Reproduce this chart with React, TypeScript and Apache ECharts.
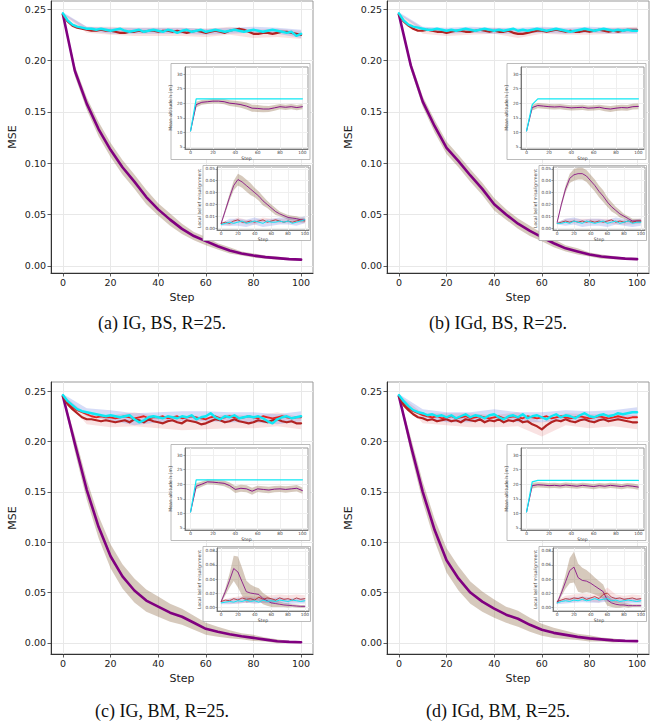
import React, { useEffect, useRef } from "react";
import * as echarts from "echarts";

// ---------- domains & ticks ----------
const MAIN_STEPS = Array.from({ length: 51 }, (_, i) => i * 2);
const STEPS5 = Array.from({ length: 21 }, (_, i) => i * 5);
const STEPS10 = Array.from({ length: 11 }, (_, i) => i * 10);
const X_TICKS = [0, 20, 40, 60, 80, 100];
const MSE_TICKS = [0, 0.05, 0.1, 0.15, 0.2, 0.25];
const ALT_TICKS = [5, 10, 15, 20, 25, 30];
const BELIEF_TICKS_BS = [0, 0.01, 0.02, 0.03, 0.04, 0.05];
const BELIEF_TICKS_BM = [0, 0.02, 0.04, 0.06, 0.08];
const CAPTIONS = ["(a) IG, BS, R=25.", "(b) IGd, BS, R=25.", "(c) IG, BM, R=25.", "(d) IGd, BM, R=25."];

// ---------- panel A: IG, BS ----------
const A_CYAN = [
  0.246, 0.239, 0.235, 0.233, 0.232, 0.231, 0.231, 0.230, 0.231, 0.230,
  0.229, 0.230, 0.231, 0.229, 0.228, 0.229, 0.230, 0.228, 0.229, 0.230,
  0.229, 0.228, 0.230, 0.229, 0.227, 0.229, 0.230, 0.228, 0.229, 0.230,
  0.228, 0.229, 0.230, 0.229, 0.228, 0.229, 0.230, 0.229, 0.228, 0.229,
  0.230, 0.229, 0.228, 0.229, 0.230, 0.229, 0.228, 0.227, 0.228, 0.224,
  0.226,
];
const A_DARKRED = [
  0.245, 0.238, 0.234, 0.232, 0.231, 0.230, 0.229, 0.229, 0.230, 0.229,
  0.229, 0.228, 0.227, 0.227, 0.228, 0.228, 0.229, 0.228, 0.229, 0.229,
  0.228, 0.229, 0.229, 0.228, 0.229, 0.228, 0.227, 0.228, 0.229, 0.228,
  0.227, 0.228, 0.229, 0.228, 0.227, 0.229, 0.230, 0.231, 0.230, 0.228,
  0.226, 0.226, 0.227, 0.227, 0.226, 0.227, 0.228, 0.228, 0.227, 0.226,
  0.225,
];
const A_PURPLE = [0.245, 0.190, 0.158, 0.133, 0.113, 0.096, 0.082, 0.067, 0.055, 0.045, 0.036, 0.029, 0.024, 0.019, 0.015, 0.012, 0.010, 0.0085, 0.0075, 0.0065, 0.006];
const A_PURPLE_BAND = [0.001, 0.005, 0.006, 0.007, 0.007, 0.007, 0.007, 0.007, 0.006, 0.006, 0.005, 0.004, 0.004, 0.003, 0.003, 0.002, 0.002, 0.0015, 0.0015, 0.001, 0.001];
const A_RED_BAND = [0.001, 0.003, 0.004, 0.004, 0.004, 0.004, 0.004, 0.004, 0.004, 0.004, 0.004];
const A_BLUE_BAND = [0.001, 0.002, 0.003, 0.003, 0.003, 0.003, 0.003, 0.003, 0.003, 0.003, 0.004];
const A_ALT_CYAN = [10.5, 21.5, 21.5, 21.5, 21.5, 21.5, 21.5, 21.5, 21.5, 21.5, 21.5, 21.5, 21.5, 21.5, 21.5, 21.5, 21.5, 21.5, 21.5, 21.5, 21.5];
const A_ALT_PURPLE = [10.5, 19.5, 20.3, 20.5, 20.7, 20.7, 20.5, 20.0, 19.8, 19.5, 19.0, 18.3, 18.2, 18.0, 18.0, 18.4, 18.8, 18.6, 18.8, 18.5, 18.8];
const A_ALT_PURPLE_BAND = [0.3, 1.0, 0.8, 0.8, 0.8, 0.8, 0.9, 1.0, 1.0, 1.1, 1.2, 1.2, 1.2, 1.1, 1.0, 1.0, 0.9, 0.9, 0.9, 0.9, 0.9];
const A_BEL_PURPLE = [0.004, 0.015, 0.026, 0.036, 0.041, 0.039, 0.036, 0.033, 0.030, 0.027, 0.023, 0.020, 0.017, 0.014, 0.012, 0.0105, 0.009, 0.0085, 0.008, 0.007, 0.0068];
const A_BEL_PURPLE_BAND = [0.001, 0.002, 0.003, 0.004, 0.005, 0.005, 0.005, 0.005, 0.004, 0.004, 0.004, 0.003, 0.003, 0.003, 0.002, 0.002, 0.002, 0.002, 0.002, 0.002, 0.002];
const A_BEL_RED = [0.004, 0.005, 0.004, 0.006, 0.007, 0.005, 0.005, 0.006, 0.005, 0.006, 0.007, 0.005, 0.006, 0.007, 0.006, 0.005, 0.006, 0.005, 0.006, 0.007, 0.006];
const A_BEL_CYAN = [0.003, 0.004, 0.005, 0.004, 0.005, 0.006, 0.004, 0.005, 0.006, 0.005, 0.004, 0.006, 0.005, 0.005, 0.006, 0.005, 0.006, 0.004, 0.005, 0.006, 0.007];
const A_BEL_RED_BAND = [0.001, 0.002, 0.002, 0.002, 0.002, 0.002, 0.002, 0.002, 0.002, 0.002, 0.002];
const A_BEL_BLUE_BAND = [0.001, 0.003, 0.003, 0.003, 0.003, 0.003, 0.003, 0.003, 0.003, 0.003, 0.003];

// ---------- panel B: IGd, BS ----------
const B_CYAN = [
  0.246, 0.239, 0.235, 0.233, 0.232, 0.231, 0.230, 0.230, 0.231, 0.230,
  0.229, 0.230, 0.229, 0.230, 0.231, 0.230, 0.229, 0.230, 0.231, 0.230,
  0.229, 0.230, 0.229, 0.230, 0.231, 0.229, 0.230, 0.229, 0.230, 0.231,
  0.230, 0.229, 0.230, 0.231, 0.230, 0.229, 0.228, 0.229, 0.230, 0.231,
  0.230, 0.229, 0.230, 0.231, 0.230, 0.229, 0.230, 0.229, 0.230, 0.229,
  0.229,
];
const B_DARKRED = [
  0.245, 0.238, 0.234, 0.231, 0.229, 0.229, 0.230, 0.229, 0.228, 0.228,
  0.227, 0.228, 0.229, 0.229, 0.228, 0.228, 0.229, 0.230, 0.229, 0.228,
  0.229, 0.228, 0.228, 0.229, 0.227, 0.226, 0.226, 0.227, 0.228, 0.229,
  0.229, 0.228, 0.229, 0.230, 0.229, 0.228, 0.229, 0.228, 0.228, 0.229,
  0.228, 0.229, 0.230, 0.229, 0.228, 0.229, 0.228, 0.229, 0.230, 0.230,
  0.230,
];
const B_PURPLE = [0.245, 0.195, 0.160, 0.136, 0.115, 0.102, 0.088, 0.075, 0.060, 0.050, 0.041, 0.034, 0.028, 0.022, 0.017, 0.014, 0.011, 0.009, 0.008, 0.007, 0.0065];
const B_PURPLE_BAND = [0.001, 0.004, 0.005, 0.006, 0.006, 0.006, 0.006, 0.006, 0.006, 0.005, 0.005, 0.005, 0.004, 0.004, 0.003, 0.003, 0.002, 0.002, 0.0015, 0.001, 0.001];
const B_RED_BAND = [0.001, 0.003, 0.003, 0.003, 0.003, 0.004, 0.003, 0.003, 0.003, 0.003, 0.003];
const B_BLUE_BAND = [0.001, 0.002, 0.003, 0.003, 0.003, 0.003, 0.003, 0.003, 0.003, 0.003, 0.003];
const B_ALT_CYAN = [10.5, 19.5, 21.5, 21.5, 21.5, 21.5, 21.5, 21.5, 21.5, 21.5, 21.5, 21.5, 21.5, 21.5, 21.5, 21.5, 21.5, 21.5, 21.5, 21.5, 21.5];
const B_ALT_PURPLE = [10.5, 18.5, 19.2, 19.0, 18.8, 18.7, 18.8, 18.6, 18.4, 18.5, 18.6, 18.3, 18.4, 18.6, 18.2, 18.0, 18.3, 18.5, 18.4, 18.8, 18.9];
const B_ALT_PURPLE_BAND = [0.3, 1.0, 0.9, 0.9, 0.9, 0.9, 0.9, 0.9, 0.9, 0.9, 0.9, 0.9, 0.9, 0.9, 1.0, 1.0, 1.0, 1.0, 1.0, 1.0, 1.0];
const B_BEL_PURPLE = [0.005, 0.020, 0.033, 0.042, 0.045, 0.046, 0.046, 0.044, 0.040, 0.036, 0.031, 0.027, 0.022, 0.018, 0.015, 0.012, 0.010, 0.008, 0.006, 0.006, 0.006];
const B_BEL_PURPLE_BAND = [0.001, 0.002, 0.003, 0.004, 0.005, 0.005, 0.005, 0.005, 0.005, 0.005, 0.005, 0.005, 0.004, 0.004, 0.003, 0.003, 0.002, 0.002, 0.002, 0.002, 0.002];
const B_BEL_RED = [0.004, 0.005, 0.006, 0.005, 0.006, 0.005, 0.006, 0.005, 0.006, 0.005, 0.006, 0.005, 0.006, 0.007, 0.005, 0.006, 0.005, 0.006, 0.005, 0.006, 0.006];
const B_BEL_CYAN = [0.004, 0.004, 0.005, 0.004, 0.006, 0.005, 0.004, 0.006, 0.005, 0.004, 0.005, 0.006, 0.004, 0.005, 0.006, 0.004, 0.005, 0.006, 0.004, 0.005, 0.005];
const B_BEL_RED_BAND = [0.001, 0.002, 0.002, 0.002, 0.002, 0.002, 0.002, 0.002, 0.002, 0.002, 0.002];
const B_BEL_BLUE_BAND = [0.001, 0.003, 0.003, 0.003, 0.003, 0.003, 0.003, 0.003, 0.003, 0.003, 0.003];

// ---------- panel C: IG, BM ----------
const C_CYAN = [
  0.246, 0.240, 0.236, 0.232, 0.230, 0.229, 0.228, 0.227, 0.226, 0.225,
  0.226, 0.225, 0.224, 0.225, 0.226, 0.222, 0.219, 0.221, 0.224, 0.225,
  0.224, 0.223, 0.225, 0.224, 0.223, 0.225, 0.224, 0.226, 0.222, 0.224,
  0.225, 0.228, 0.224, 0.222, 0.225, 0.224, 0.226, 0.223, 0.224, 0.225,
  0.224, 0.225, 0.223, 0.220, 0.218, 0.222, 0.224, 0.225, 0.223, 0.224,
  0.225,
];
const C_DARKRED = [
  0.245, 0.237, 0.232, 0.228, 0.224, 0.222, 0.222, 0.221, 0.220, 0.221,
  0.220, 0.219, 0.220, 0.221, 0.219, 0.222, 0.221, 0.219, 0.222, 0.220,
  0.219, 0.218, 0.220, 0.221, 0.219, 0.218, 0.221, 0.220, 0.219, 0.217,
  0.218, 0.220, 0.222, 0.221, 0.219, 0.220, 0.222, 0.220, 0.219, 0.218,
  0.219, 0.221, 0.220, 0.219, 0.221, 0.222, 0.220, 0.219, 0.220, 0.218,
  0.218,
];
const C_RED = [
  0.245, 0.238, 0.234, 0.231, 0.229, 0.227, 0.225, 0.224, 0.225, 0.224,
  0.224, 0.223, 0.224, 0.225, 0.224, 0.223, 0.224, 0.225, 0.223, 0.224,
  0.224, 0.225, 0.223, 0.224, 0.225, 0.223, 0.224, 0.225, 0.224, 0.223,
  0.222, 0.224, 0.225, 0.223, 0.224, 0.225, 0.224, 0.223, 0.224, 0.225,
  0.224, 0.223, 0.225, 0.224, 0.223, 0.224, 0.225, 0.224, 0.223, 0.224,
  0.224,
];
const C_PURPLE = [0.245, 0.198, 0.152, 0.115, 0.086, 0.066, 0.052, 0.042, 0.036, 0.030, 0.026, 0.020, 0.014, 0.011, 0.0086, 0.0066, 0.005, 0.0033, 0.0017, 0.001, 0.0007];
const C_PURPLE_BAND = [0.001, 0.008, 0.010, 0.011, 0.012, 0.012, 0.012, 0.011, 0.010, 0.009, 0.008, 0.007, 0.006, 0.005, 0.004, 0.003, 0.003, 0.002, 0.002, 0.001, 0.001];
const C_RED_BAND = [0.001, 0.005, 0.006, 0.007, 0.006, 0.007, 0.006, 0.007, 0.006, 0.007, 0.006];
const C_BLUE_BAND = [0.001, 0.004, 0.005, 0.006, 0.005, 0.005, 0.005, 0.005, 0.005, 0.005, 0.005];
const C_ALT_CYAN = [10.5, 21.5, 21.5, 21.5, 21.5, 21.5, 21.5, 21.5, 21.5, 21.5, 21.5, 21.5, 21.5, 21.5, 21.5, 21.5, 21.5, 21.5, 21.5, 21.5, 21.5];
const C_ALT_PURPLE = [10.5, 19.3, 20.0, 20.8, 20.7, 20.5, 20.3, 19.5, 18.2, 18.6, 18.4, 17.6, 18.4, 18.2, 18.0, 18.3, 18.4, 18.2, 18.4, 18.6, 17.8];
const C_ALT_PURPLE_BAND = [0.3, 1.0, 0.9, 0.8, 0.8, 0.9, 1.0, 1.1, 1.2, 1.2, 1.2, 1.2, 1.1, 1.1, 1.1, 1.1, 1.1, 1.1, 1.1, 1.1, 1.1];
const C_BEL_PURPLE = [0.008, 0.022, 0.038, 0.055, 0.050, 0.036, 0.022, 0.020, 0.019, 0.018, 0.012, 0.009, 0.006, 0.005, 0.004, 0.003, 0.0025, 0.002, 0.0015, 0.001, 0.001];
const C_BEL_PURPLE_BAND = [0.002, 0.005, 0.010, 0.018, 0.022, 0.020, 0.016, 0.012, 0.010, 0.009, 0.008, 0.007, 0.006, 0.005, 0.004, 0.003, 0.003, 0.002, 0.002, 0.002, 0.002];
const C_BEL_RED = [0.008, 0.010, 0.009, 0.012, 0.010, 0.013, 0.011, 0.012, 0.010, 0.014, 0.011, 0.013, 0.012, 0.010, 0.013, 0.011, 0.012, 0.010, 0.013, 0.011, 0.012];
const C_BEL_CYAN = [0.006, 0.007, 0.008, 0.007, 0.009, 0.008, 0.010, 0.008, 0.009, 0.007, 0.010, 0.008, 0.009, 0.008, 0.010, 0.009, 0.008, 0.010, 0.009, 0.008, 0.009];
const C_BEL_RED_BAND = [0.002, 0.004, 0.005, 0.005, 0.005, 0.005, 0.005, 0.005, 0.005, 0.005, 0.005];
const C_BEL_BLUE_BAND = [0.002, 0.004, 0.004, 0.004, 0.004, 0.004, 0.004, 0.004, 0.004, 0.004, 0.004];

// ---------- panel D: IGd, BM ----------
const D_CYAN = [
  0.246, 0.240, 0.235, 0.231, 0.229, 0.228, 0.226, 0.227, 0.225, 0.226,
  0.224, 0.226, 0.223, 0.225, 0.227, 0.224, 0.226, 0.225, 0.223, 0.226,
  0.227, 0.224, 0.222, 0.225, 0.226, 0.224, 0.227, 0.223, 0.225, 0.226,
  0.224, 0.222, 0.225, 0.227, 0.224, 0.226, 0.225, 0.223, 0.226, 0.228,
  0.225, 0.224, 0.226, 0.227, 0.225, 0.226, 0.228, 0.227, 0.228, 0.229,
  0.229,
];
const D_DARKRED = [
  0.245, 0.236, 0.231, 0.227, 0.224, 0.223, 0.221, 0.222, 0.220, 0.221,
  0.222, 0.220, 0.221, 0.219, 0.222, 0.221, 0.220, 0.222, 0.219, 0.221,
  0.220, 0.222, 0.219, 0.221, 0.220, 0.222, 0.219, 0.220, 0.217, 0.215,
  0.212, 0.216, 0.219, 0.221, 0.220, 0.222, 0.220, 0.219, 0.221, 0.222,
  0.220, 0.219, 0.221, 0.222, 0.220, 0.221, 0.222, 0.221, 0.220, 0.219,
  0.219,
];
const D_RED = [
  0.245, 0.238, 0.233, 0.230, 0.228, 0.226, 0.225, 0.224, 0.225, 0.223,
  0.224, 0.225, 0.223, 0.224, 0.225, 0.223, 0.224, 0.225, 0.224, 0.223,
  0.224, 0.225, 0.223, 0.224, 0.225, 0.224, 0.223, 0.225, 0.224, 0.223,
  0.224, 0.225, 0.223, 0.224, 0.225, 0.224, 0.223, 0.224, 0.225, 0.224,
  0.223, 0.224, 0.225, 0.224, 0.223, 0.224, 0.225, 0.224, 0.223, 0.224,
  0.224,
];
const D_PURPLE = [0.245, 0.196, 0.150, 0.112, 0.082, 0.064, 0.050, 0.041, 0.034, 0.028, 0.024, 0.018, 0.013, 0.010, 0.008, 0.006, 0.0045, 0.0035, 0.0025, 0.002, 0.0018];
const D_PURPLE_BAND = [0.001, 0.008, 0.010, 0.011, 0.012, 0.012, 0.011, 0.010, 0.009, 0.008, 0.008, 0.007, 0.006, 0.005, 0.004, 0.003, 0.003, 0.002, 0.002, 0.001, 0.001];
const D_RED_BAND = [0.001, 0.005, 0.006, 0.007, 0.006, 0.007, 0.007, 0.006, 0.007, 0.006, 0.007];
const D_BLUE_BAND = [0.001, 0.004, 0.005, 0.005, 0.005, 0.005, 0.005, 0.005, 0.005, 0.005, 0.005];
const D_ALT_CYAN = [10.5, 20.8, 21.3, 21.3, 21.3, 21.3, 21.3, 21.3, 21.3, 21.3, 21.3, 21.3, 21.3, 21.3, 21.3, 21.3, 21.3, 21.3, 21.3, 21.3, 21.3];
const D_ALT_PURPLE = [10.5, 19.5, 19.8, 19.7, 19.5, 19.6, 19.4, 19.7, 19.5, 19.3, 19.6, 19.4, 19.2, 19.5, 19.3, 19.6, 19.4, 19.2, 19.5, 19.3, 19.0];
const D_ALT_PURPLE_BAND = [0.3, 1.0, 0.9, 0.9, 0.9, 0.9, 0.9, 0.9, 0.9, 0.9, 0.9, 0.9, 0.9, 0.9, 0.9, 0.9, 0.9, 0.9, 0.9, 0.9, 0.9];
const D_BEL_PURPLE = [0.006, 0.020, 0.036, 0.052, 0.057, 0.042, 0.038, 0.037, 0.034, 0.030, 0.026, 0.022, 0.010, 0.006, 0.004, 0.003, 0.003, 0.002, 0.002, 0.002, 0.002];
const D_BEL_PURPLE_BAND = [0.002, 0.005, 0.010, 0.018, 0.022, 0.020, 0.018, 0.016, 0.014, 0.012, 0.011, 0.010, 0.008, 0.006, 0.005, 0.004, 0.003, 0.003, 0.002, 0.002, 0.002];
const D_BEL_RED = [0.008, 0.010, 0.012, 0.011, 0.013, 0.012, 0.014, 0.011, 0.013, 0.015, 0.012, 0.018, 0.020, 0.014, 0.012, 0.013, 0.011, 0.012, 0.013, 0.011, 0.012];
const D_BEL_CYAN = [0.006, 0.008, 0.009, 0.008, 0.010, 0.009, 0.011, 0.009, 0.010, 0.012, 0.010, 0.011, 0.012, 0.009, 0.010, 0.008, 0.009, 0.010, 0.009, 0.008, 0.009];
const D_BEL_RED_BAND = [0.002, 0.004, 0.005, 0.005, 0.005, 0.006, 0.008, 0.006, 0.005, 0.005, 0.005];
const D_BEL_BLUE_BAND = [0.002, 0.004, 0.004, 0.004, 0.004, 0.004, 0.004, 0.004, 0.004, 0.004, 0.004];

// ---------- colours ----------
const COL_PURPLE = "#800080";
const COL_CYAN = "#10e8f4";
const COL_DARKRED = "#b22222";
const COL_RED = "#e8211d";
const BAND_PURPLE = "rgba(140,105,70,0.36)";
const BAND_RED = "rgba(225,110,110,0.2)";
const BAND_BLUE = "rgba(90,115,225,0.25)";

type Panel = {
  dx: number; dy: number; capY: number; ymin: number; ymax: number;
  cyan: number[]; darkred: number[]; red: number[] | null; purple: number[];
  purpleBand: number[]; redBand: number[]; blueBand: number[];
  altCyan: number[]; altPurple: number[]; altPurpleBand: number[];
  belPurple: number[]; belPurpleBand: number[]; belRed: number[]; belCyan: number[];
  belRedBand: number[]; belBlueBand: number[];
  belTicks: number[]; belMin: number; belMax: number;
};

const PANELS: Panel[] = [
  { dx: 0, dy: 0, capY: 323, ymin: -0.007, ymax: 0.258, cyan: A_CYAN, darkred: A_DARKRED, red: null, purple: A_PURPLE, purpleBand: A_PURPLE_BAND, redBand: A_RED_BAND, blueBand: A_BLUE_BAND, altCyan: A_ALT_CYAN, altPurple: A_ALT_PURPLE, altPurpleBand: A_ALT_PURPLE_BAND, belPurple: A_BEL_PURPLE, belPurpleBand: A_BEL_PURPLE_BAND, belRed: A_BEL_RED, belCyan: A_BEL_CYAN, belRedBand: A_BEL_RED_BAND, belBlueBand: A_BEL_BLUE_BAND, belTicks: BELIEF_TICKS_BS, belMin: -0.0016, belMax: 0.0516 },
  { dx: 336, dy: 0, capY: 323, ymin: -0.007, ymax: 0.258, cyan: B_CYAN, darkred: B_DARKRED, red: null, purple: B_PURPLE, purpleBand: B_PURPLE_BAND, redBand: B_RED_BAND, blueBand: B_BLUE_BAND, altCyan: B_ALT_CYAN, altPurple: B_ALT_PURPLE, altPurpleBand: B_ALT_PURPLE_BAND, belPurple: B_BEL_PURPLE, belPurpleBand: B_BEL_PURPLE_BAND, belRed: B_BEL_RED, belCyan: B_BEL_CYAN, belRedBand: B_BEL_RED_BAND, belBlueBand: B_BEL_BLUE_BAND, belTicks: BELIEF_TICKS_BS, belMin: -0.0016, belMax: 0.0516 },
  { dx: 0, dy: 381, capY: 711, ymin: -0.011, ymax: 0.259, cyan: C_CYAN, darkred: C_DARKRED, red: C_RED, purple: C_PURPLE, purpleBand: C_PURPLE_BAND, redBand: C_RED_BAND, blueBand: C_BLUE_BAND, altCyan: C_ALT_CYAN, altPurple: C_ALT_PURPLE, altPurpleBand: C_ALT_PURPLE_BAND, belPurple: C_BEL_PURPLE, belPurpleBand: C_BEL_PURPLE_BAND, belRed: C_BEL_RED, belCyan: C_BEL_CYAN, belRedBand: C_BEL_RED_BAND, belBlueBand: C_BEL_BLUE_BAND, belTicks: BELIEF_TICKS_BM, belMin: -0.0056, belMax: 0.0842 },
  { dx: 336, dy: 381, capY: 711, ymin: -0.011, ymax: 0.259, cyan: D_CYAN, darkred: D_DARKRED, red: D_RED, purple: D_PURPLE, purpleBand: D_PURPLE_BAND, redBand: D_RED_BAND, blueBand: D_BLUE_BAND, altCyan: D_ALT_CYAN, altPurple: D_ALT_PURPLE, altPurpleBand: D_ALT_PURPLE_BAND, belPurple: D_BEL_PURPLE, belPurpleBand: D_BEL_PURPLE_BAND, belRed: D_BEL_RED, belCyan: D_BEL_CYAN, belRedBand: D_BEL_RED_BAND, belBlueBand: D_BEL_BLUE_BAND, belTicks: BELIEF_TICKS_BM, belMin: -0.0056, belMax: 0.0842 },
];

const sub = (arr: number[], k: number) => arr.filter((_, i) => i % k === 0);

function buildOption() {
  const grid: any[] = [];
  const xAxis: any[] = [];
  const yAxis: any[] = [];
  const series: any[] = [];
  const graphic: any[] = [];

  const addGrid = (
    rect: { left: number; top: number; width: number; height: number },
    xr: [number, number], yr: [number, number], yTicks: number[],
    o: { fs: number; yfmt: (v: number) => string; yname: string; nameFs: number; xNameGap: number; yNameGap: number;
      axisColor: string; borderColor: string; splitColor: string; z: number; tickLen: number; xMargin: number; yMargin: number; labelColor: string }
  ) => {
    const g = grid.length;
    grid.push({ ...rect, show: true, backgroundColor: "#fff", borderColor: o.borderColor, borderWidth: 1, containLabel: false, z: o.z });
    xAxis.push({
      type: "value", gridIndex: g, min: xr[0], max: xr[1], splitNumber: 5, z: o.z + 1,
      axisLine: { show: true, onZero: false, lineStyle: { color: o.axisColor, width: 1 } },
      axisTick: { show: true, customValues: X_TICKS, length: o.tickLen, lineStyle: { color: o.axisColor, width: 0.8 } },
      axisLabel: { customValues: X_TICKS, fontSize: o.fs, color: o.labelColor, fontFamily: "DejaVu Sans", margin: o.xMargin },
      splitLine: { show: true, lineStyle: { color: o.splitColor, width: 1 } },
      name: "Step", nameLocation: "middle", nameGap: o.xNameGap,
      nameTextStyle: { fontSize: o.nameFs, color: o.labelColor, fontFamily: "DejaVu Sans" },
    });
    yAxis.push({
      type: "value", gridIndex: g, min: yr[0], max: yr[1], splitNumber: 5, z: o.z + 1,
      axisLine: { show: true, onZero: false, lineStyle: { color: o.axisColor, width: 1 } },
      axisTick: { show: true, customValues: yTicks, length: o.tickLen, lineStyle: { color: o.axisColor, width: 0.8 } },
      axisLabel: { customValues: yTicks, fontSize: o.fs, color: o.labelColor, fontFamily: "DejaVu Sans", margin: o.yMargin, formatter: o.yfmt },
      splitLine: { show: true, lineStyle: { color: o.splitColor, width: 1 } },
      name: o.yname, nameLocation: "middle", nameGap: o.yNameGap,
      nameTextStyle: { fontSize: o.nameFs, color: o.labelColor, fontFamily: "DejaVu Sans" },
    });
    return g;
  };

  const addLine = (g: number, xs: number[], ys: number[], color: string, width: number, z: number) => {
    series.push({
      type: "line", xAxisIndex: g, yAxisIndex: g, data: xs.map((x, i) => [x, ys[i]]),
      symbol: "none", showSymbol: false, silent: true, z,
      lineStyle: { color, width, cap: "round", join: "round" },
    });
  };

  // shaded band (mean ± spread) drawn as one polygon through the axis scales
  const addBand = (g: number, xs: number[], center: number[], hw: number[], color: string, z: number) => {
    const data = xs.map((x, i) => [x, center[i] - hw[i], center[i] + hw[i]]);
    series.push({
      type: "custom", xAxisIndex: g, yAxisIndex: g, silent: true, z, clip: true,
      encode: { x: 0, y: [1, 2] },
      data,
      renderItem: (params: any, api: any) => {
        if (params.dataIndex !== 0) return null;
        const upper = data.map((d) => api.coord([d[0], d[2]]));
        const lower = data.map((d) => api.coord([d[0], d[1]])).reverse();
        return { type: "polygon", shape: { points: upper.concat(lower) }, style: { fill: color, stroke: "none" } };
      },
    });
  };

  PANELS.forEach((p, pi) => {
    const { dx, dy } = p;
    // main chart
    const gm = addGrid(
      { left: 51 + dx, top: 1 + dy, width: 262, height: 272 },
      [-5, 105], [p.ymin, p.ymax], MSE_TICKS,
      { fs: 9.5, yfmt: (v) => v.toFixed(2), yname: "MSE", nameFs: 11, xNameGap: 19, yNameGap: 33,
        axisColor: "#333", borderColor: "#999", splitColor: "#e8e8e8", z: 0, tickLen: 3.5, xMargin: 4, yMargin: 5, labelColor: "#222" }
    );
    addBand(gm, STEPS5, p.purple, p.purpleBand, BAND_PURPLE, 2);
    addBand(gm, STEPS10, sub(p.darkred, 5), p.redBand, BAND_RED, 2);
    addBand(gm, STEPS10, sub(p.cyan, 5), p.blueBand, BAND_BLUE, 2);
    addLine(gm, STEPS5, p.purple, COL_PURPLE, 2.6, 3);
    if (p.red) addLine(gm, MAIN_STEPS, p.red, COL_RED, 1.8, 3);
    addLine(gm, MAIN_STEPS, p.darkred, COL_DARKRED, 2.2, 3);
    addLine(gm, MAIN_STEPS, p.cyan, COL_CYAN, 2.4, 3);

    // inset boxes (white background with light border)
    graphic.push({ type: "rect", z: 4, silent: true, shape: { x: 171 + dx, y: 63.5 + dy, width: 139, height: 96 }, style: { fill: "#fff", stroke: "#aaa", lineWidth: 0.8 } });
    graphic.push({ type: "rect", z: 4, silent: true, shape: { x: 203 + dx, y: 165.5 + dy, width: 107.5, height: 75 }, style: { fill: "#fff", stroke: "#aaa", lineWidth: 0.8 } });

    const insetStyle = {
      fs: 4.3, nameFs: 4.6, axisColor: "#777", borderColor: "#999", splitColor: "#efefef",
      z: 5, tickLen: 1.5, xMargin: 1.5, labelColor: "#444",
    };
    // inset 1: altitude
    const ga = addGrid(
      { left: 185 + dx, top: 67 + dy, width: 123, height: 82 },
      [-5, 105], [4.3, 32.4], ALT_TICKS,
      { ...insetStyle, yfmt: (v) => String(Math.round(v)), yname: "Mean altitude h [m]", xNameGap: 6.5, yNameGap: 7, yMargin: 2.5 }
    );
    addBand(ga, STEPS5, p.altPurple, p.altPurpleBand, BAND_PURPLE, 7);
    addLine(ga, STEPS5, p.altPurple, COL_PURPLE, 0.9, 8);
    addLine(ga, STEPS5, p.altCyan, COL_CYAN, 1.2, 8);

    // inset 2: belief misalignment
    const gb = addGrid(
      { left: 217 + dx, top: 167 + dy, width: 92, height: 63 },
      [-5, 105], [p.belMin, p.belMax], p.belTicks,
      { ...insetStyle, yfmt: (v) => v.toFixed(2), yname: "Local belief misalignment", xNameGap: 6.5, yNameGap: 10, yMargin: 2 }
    );
    addBand(gb, STEPS5, p.belPurple, p.belPurpleBand, BAND_PURPLE, 7);
    addBand(gb, STEPS10, sub(p.belRed, 2), p.belRedBand, BAND_RED, 7);
    addBand(gb, STEPS10, sub(p.belCyan, 2), p.belBlueBand, BAND_BLUE, 7);
    addLine(gb, STEPS5, p.belPurple, COL_PURPLE, 0.8, 8);
    addLine(gb, STEPS5, p.belRed, COL_DARKRED, 0.8, 8);
    addLine(gb, STEPS5, p.belCyan, COL_CYAN, 1.0, 8);

    // caption
    graphic.push({
      type: "text", z: 10, silent: true,
      x: 162 + dx, y: p.capY,
      style: { text: CAPTIONS[pi], fontFamily: "Liberation Serif", fontSize: 18, fill: "#111", textAlign: "center", textVerticalAlign: "middle" },
    });
  });

  return { animation: false, backgroundColor: "#fff", grid, xAxis, yAxis, series, graphic };
}

export default function App() {
  const ref = useRef<HTMLDivElement>(null);
  useEffect(() => {
    if (!ref.current) return;
    const chart = echarts.init(ref.current, undefined, { renderer: "svg" });
    chart.setOption(buildOption() as any);
    return () => chart.dispose();
  }, []);
  return <div ref={ref} style={{ position: "absolute", left: 0, top: 0, width: 670, height: 728, background: "#fff" }} />;
}
